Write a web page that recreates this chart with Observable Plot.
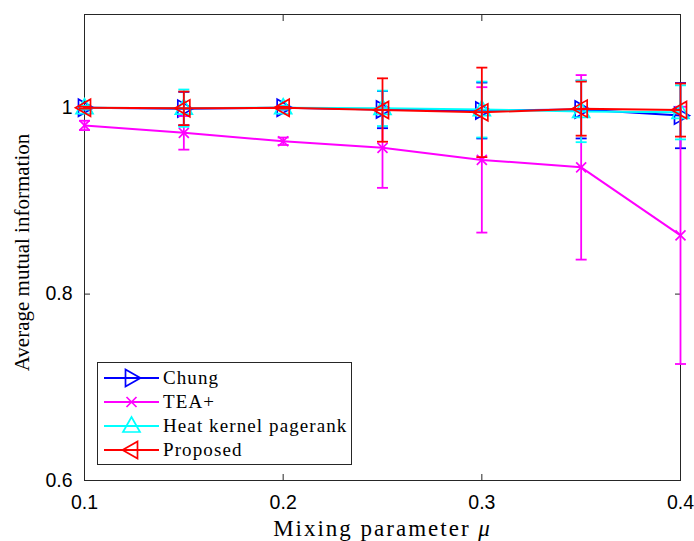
<!DOCTYPE html>
<html><head><meta charset="utf-8">
<script src="https://cdn.jsdelivr.net/npm/d3@7"></script>
<script src="https://cdn.jsdelivr.net/npm/@observablehq/plot@0.6"></script>
<style>
body{margin:0;background:#fff;}
#wrap{position:relative;width:694px;height:541px;overflow:hidden;color:#262626;}
#legend{position:absolute;left:97px;top:362px;width:255px;height:103px;border:1px solid #262626;background:#fff;box-sizing:border-box;}
.row{position:absolute;left:0;height:24px;width:100%;}
.row svg{position:absolute;left:0;top:0;overflow:visible;}
.row span{position:absolute;left:65px;top:0;line-height:24px;font-family:"Liberation Serif",serif;font-size:19px;color:#000;letter-spacing:1.1px;white-space:nowrap;}
</style></head><body><div id="wrap"></div>
<script>
// ---- data ----
const mu = [0.1, 0.15, 0.2, 0.25, 0.3, 0.35, 0.4];
const names = ["Chung", "TEA+", "Heat kernel pagerank", "Proposed"];
const chungMean = [1.000, 0.999, 1.000, 0.998, 0.997, 0.998, 0.9915];
const chungErr  = [0.002, 0.018, 0.002, 0.020, 0.030, 0.031, 0.035];
const teaMean   = [0.981, 0.973, 0.964, 0.957, 0.944, 0.936, 0.863];
const teaErr    = [0.005, 0.018, 0.004, 0.043, 0.078, 0.099, 0.138];
const heatMean  = [1.000, 0.9995, 1.000, 0.9993, 0.998, 0.996, 0.995];
const heatErr   = [0.002, 0.020, 0.002, 0.019, 0.030, 0.033, 0.029];
const propMean  = [1.000, 0.9993, 1.000, 0.9975, 0.995, 0.999, 0.9975];
const propErr   = [0.001, 0.018, 0.001, 0.034, 0.048, 0.029, 0.0285];
const xTicks = [0.1, 0.2, 0.3, 0.4];
const yTicks = [0.6, 0.8, 1.0];
const xLabelMain = "Mixing parameter ";
const xLabelSym = "\u03bc";
const xLabel = xLabelMain + xLabelSym;
const yLabel = "Average mutual information";

// ---- marker shapes ----
const triRight = {draw(c){ c.moveTo(9,0); c.lineTo(-6,-8.5); c.lineTo(-6,8.5); c.closePath(); }};
const triLeft  = {draw(c){ c.moveTo(-9,0); c.lineTo(6,-8.5); c.lineTo(6,8.5); c.closePath(); }};
const triUp    = {draw(c){ c.moveTo(0,-9); c.lineTo(8.5,6); c.lineTo(-8.5,6); c.closePath(); }};
const cross    = {draw(c){ c.moveTo(-5,-5); c.lineTo(5,5); c.moveTo(-5,5); c.lineTo(5,-5); }};
const cap      = {draw(c){ c.moveTo(-5.5,0); c.lineTo(5.5,0); }};

const series = [
  {name: names[0], color: "#0000ff", mean: chungMean, err: chungErr, symbol: triRight},
  {name: names[1], color: "#ff00ff", mean: teaMean,   err: teaErr,   symbol: cross},
  {name: names[2], color: "#00ffff", mean: heatMean,  err: heatErr,  symbol: triUp},
  {name: names[3], color: "#ff0000", mean: propMean,  err: propErr,  symbol: triLeft}
];

const marks = [];
for (const s of series) {
  const rows = mu.map((m, i) => ({mu: m, mean: s.mean[i], lo: s.mean[i] - s.err[i], hi: s.mean[i] + s.err[i]}));
  marks.push(
    Plot.ruleX(rows, {x: "mu", y1: "lo", y2: "hi", stroke: s.color, strokeWidth: 1.8}),
    Plot.dot(rows, {x: "mu", y: "lo", symbol: cap, stroke: s.color, strokeWidth: 1.8, r: 8}),
    Plot.dot(rows, {x: "mu", y: "hi", symbol: cap, stroke: s.color, strokeWidth: 1.8, r: 8}),
    Plot.line(rows, {x: "mu", y: "mean", stroke: s.color, strokeWidth: 2}),
    Plot.dot(rows, {x: "mu", y: "mean", symbol: s.symbol, stroke: s.color, fill: "none", strokeWidth: 1.7, r: 8})
  );
}

const chart = Plot.plot({
  width: 694, height: 541,
  marginTop: 14, marginBottom: 61, marginLeft: 84, marginRight: 14,
  style: {background: "white", color: "#262626", overflow: "visible"},
  x: {domain: [0.1, 0.4]},
  y: {domain: [0.6, 1.1]},
  marks: [
    Plot.frame({stroke: "#262626", strokeWidth: 1}),
    Plot.axisX({ticks: xTicks, anchor: "bottom", tickSize: 0, tickPadding: 15, tickFormat: d => d.toFixed(1), fontSize: 19.5, fontFamily: "Liberation Sans", label: null, fill: "#000"}),
    Plot.axisX({ticks: xTicks, anchor: "bottom", tickSize: -6, tickFormat: () => "", label: null}),
    Plot.axisX({ticks: xTicks, anchor: "top", tickSize: -6, tickFormat: () => "", label: null}),
    Plot.axisY({ticks: yTicks, anchor: "left", tickSize: 0, tickPadding: 12, tickFormat: d => d === 1 ? "1" : d.toFixed(1), fontSize: 19.5, fontFamily: "Liberation Sans", label: null, fill: "#000"}),
    Plot.axisY({ticks: yTicks, anchor: "left", tickSize: -6, tickFormat: () => "", label: null}),
    Plot.axisY({ticks: yTicks, anchor: "right", tickSize: -6, tickFormat: () => "", label: null}),
    ...marks,
    Plot.text([yLabel], {text: d => d, frameAnchor: "left", textAnchor: "middle", lineAnchor: "middle", rotate: -90, dx: -62, dy: 5, fontSize: 21, fontFamily: "Liberation Serif", fill: "#000"}),
    Plot.text([xLabel], {text: d => d, frameAnchor: "bottom", textAnchor: "middle", lineAnchor: "middle", dy: 48, fontSize: 23, fontFamily: "Liberation Serif", fill: "#000"})
  ]
});
const wrap = document.getElementById("wrap");
wrap.appendChild(chart);

// ---- legend ----
const legend = document.createElement("div");
legend.id = "legend";
series.forEach((s, i) => {
  const row = document.createElement("div");
  row.className = "row";
  row.style.top = (3 + i * 24) + "px";
  const svg = d3.create("svg").attr("width", 60).attr("height", 24);
  svg.append("line").attr("x1", 6).attr("x2", 61).attr("y1", 12).attr("y2", 12)
    .attr("stroke", s.color).attr("stroke-width", 2);
  svg.append("path").attr("d", d3.symbol(s.symbol, 64)()).attr("transform", "translate(33.5,12)")
    .attr("fill", "none").attr("stroke", s.color).attr("stroke-width", 1.7);
  row.appendChild(svg.node());
  const sp = document.createElement("span");
  sp.textContent = s.name;
  row.appendChild(sp);
  legend.appendChild(row);
});
wrap.appendChild(legend);
const sel = d3.select(chart).selectAll("text");
const xl = sel.filter(function(){ return this.textContent === xLabel; });
xl.attr("letter-spacing", "2px").text(xLabelMain);
xl.append("tspan").attr("font-style", "italic").text(xLabelSym);
sel.filter(function(){ return this.textContent === yLabel; }).attr("letter-spacing", "0px");
</script>
</body></html>
